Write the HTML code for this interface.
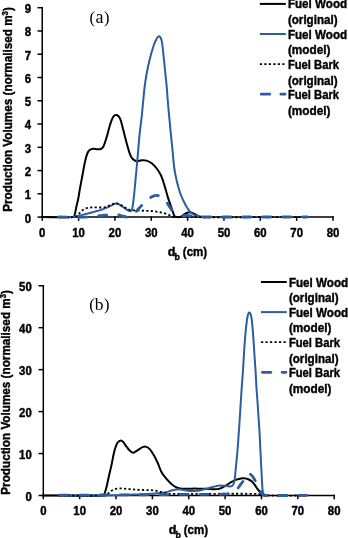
<!DOCTYPE html>
<html><head><meta charset="utf-8"><style>
html,body{margin:0;padding:0;background:#fff;width:348px;height:538px;overflow:hidden}
svg{display:block;will-change:transform}
text.serif{font-family:"Liberation Serif",serif;font-weight:normal;stroke:none}
text{font-family:"Liberation Sans",sans-serif;font-weight:bold;fill:#000;stroke:#000;stroke-width:0.4px}
</style></head><body>
<svg width="348" height="538" viewBox="0 0 348 538">
<rect width="348" height="538" fill="#fff"/>
<g stroke="#000" stroke-width="1.50" fill="none" stroke-linecap="square">
<path d="M42.25 7.70 V217.10"/>
<path d="M42.25 217.10 H333.00"/>
<path d="M38.25 217.10 H42.25"/>
<path d="M38.25 193.83 H42.25"/>
<path d="M38.25 170.57 H42.25"/>
<path d="M38.25 147.30 H42.25"/>
<path d="M38.25 124.03 H42.25"/>
<path d="M38.25 100.77 H42.25"/>
<path d="M38.25 77.50 H42.25"/>
<path d="M38.25 54.23 H42.25"/>
<path d="M38.25 30.97 H42.25"/>
<path d="M38.25 7.70 H42.25"/>
<path d="M42.25 217.10 V220.10"/>
<path d="M78.59 217.10 V220.10"/>
<path d="M114.94 217.10 V220.10"/>
<path d="M151.28 217.10 V220.10"/>
<path d="M187.62 217.10 V220.10"/>
<path d="M223.97 217.10 V220.10"/>
<path d="M260.31 217.10 V220.10"/>
<path d="M296.66 217.10 V220.10"/>
<path d="M333.00 217.10 V220.10"/>
</g>
<text transform="translate(31.20 222.50) scale(0.950 1)" text-anchor="end" font-size="12.00">0</text>
<text transform="translate(31.20 199.23) scale(0.950 1)" text-anchor="end" font-size="12.00">1</text>
<text transform="translate(31.20 175.97) scale(0.950 1)" text-anchor="end" font-size="12.00">2</text>
<text transform="translate(31.20 152.70) scale(0.950 1)" text-anchor="end" font-size="12.00">3</text>
<text transform="translate(31.20 129.43) scale(0.950 1)" text-anchor="end" font-size="12.00">4</text>
<text transform="translate(31.20 106.17) scale(0.950 1)" text-anchor="end" font-size="12.00">5</text>
<text transform="translate(31.20 82.90) scale(0.950 1)" text-anchor="end" font-size="12.00">6</text>
<text transform="translate(31.20 59.63) scale(0.950 1)" text-anchor="end" font-size="12.00">7</text>
<text transform="translate(31.20 36.37) scale(0.950 1)" text-anchor="end" font-size="12.00">8</text>
<text transform="translate(31.20 13.10) scale(0.950 1)" text-anchor="end" font-size="12.00">9</text>
<text transform="translate(42.25 237.40) scale(0.950 1)" text-anchor="middle" font-size="12.00">0</text>
<text transform="translate(78.59 237.40) scale(0.950 1)" text-anchor="middle" font-size="12.00">10</text>
<text transform="translate(114.94 237.40) scale(0.950 1)" text-anchor="middle" font-size="12.00">20</text>
<text transform="translate(151.28 237.40) scale(0.950 1)" text-anchor="middle" font-size="12.00">30</text>
<text transform="translate(187.62 237.40) scale(0.950 1)" text-anchor="middle" font-size="12.00">40</text>
<text transform="translate(223.97 237.40) scale(0.950 1)" text-anchor="middle" font-size="12.00">50</text>
<text transform="translate(260.31 237.40) scale(0.950 1)" text-anchor="middle" font-size="12.00">60</text>
<text transform="translate(296.66 237.40) scale(0.950 1)" text-anchor="middle" font-size="12.00">70</text>
<text transform="translate(333.00 237.40) scale(0.950 1)" text-anchor="middle" font-size="12.00">80</text>
<path d="M42.25 217.10 C52.50 217.10 63.02 217.69 73.00 217.10 C73.81 217.05 74.34 215.97 74.60 215.20 C75.41 212.77 75.63 210.06 76.20 207.50 C76.87 204.49 77.70 201.52 78.30 198.50 C78.97 195.12 79.39 191.69 80.00 188.30 C80.79 183.86 81.67 179.43 82.50 175.00 C83.33 170.57 84.00 166.09 85.00 161.70 C85.67 158.76 86.35 155.74 87.50 153.00 C88.02 151.77 88.95 150.56 90.00 149.80 C90.89 149.16 92.18 148.89 93.30 148.80 C94.68 148.69 96.10 149.16 97.50 149.20 C98.60 149.23 99.84 149.40 100.80 149.00 C101.77 148.60 102.82 147.77 103.30 146.80 C104.79 143.77 105.68 140.30 106.70 137.00 C107.92 133.04 108.72 128.94 110.00 125.00 C110.92 122.17 111.75 119.05 113.30 116.70 C113.95 115.72 115.62 114.77 116.60 115.00 C117.85 115.30 119.37 116.90 120.00 118.30 C121.61 121.90 122.25 126.09 123.30 130.00 C124.48 134.42 125.48 138.89 126.70 143.30 C127.72 146.99 128.62 150.76 130.00 154.30 C130.66 155.99 131.57 157.74 132.80 159.00 C133.81 160.04 135.31 161.01 136.70 161.20 C138.28 161.41 140.02 160.30 141.70 160.20 C143.35 160.10 145.14 160.12 146.70 160.60 C148.47 161.15 150.23 162.14 151.70 163.30 C153.56 164.77 155.23 166.61 156.70 168.50 C158.26 170.51 159.66 172.72 160.80 175.00 C161.86 177.12 162.55 179.44 163.30 181.70 C164.21 184.44 164.99 187.23 165.80 190.00 C166.52 192.46 167.14 194.95 167.90 197.40 C168.67 199.89 169.56 202.34 170.40 204.80 C171.22 207.20 172.02 209.62 172.90 212.00 C173.45 213.49 173.79 215.27 174.70 216.40 C175.16 216.97 176.21 217.05 177.00 217.10 C178.31 217.18 179.79 217.22 181.00 216.80 C181.92 216.48 182.55 215.46 183.40 214.90 C184.45 214.20 185.53 213.46 186.70 213.00 C187.73 212.59 188.93 212.15 190.00 212.30 C191.70 212.55 193.39 213.45 195.00 214.20 C196.39 214.85 197.58 215.98 199.00 216.50 C200.25 216.95 201.67 216.90 203.00 217.10" stroke="#000" stroke-width="2.00" fill="none" stroke-linecap="round" stroke-linejoin="round"/>
<path d="M57.50 217.10 C62.83 217.07 68.18 217.17 73.50 217.00 C74.35 216.97 75.17 216.70 76.00 216.50 C78.11 216.00 80.20 215.43 82.30 214.90 C84.43 214.36 86.57 213.85 88.70 213.30 C90.81 212.75 92.90 212.17 95.00 211.60 C97.10 211.03 99.25 210.60 101.30 209.90 C103.45 209.17 105.53 208.23 107.60 207.30 C109.33 206.53 110.97 205.57 112.70 204.80 C113.74 204.34 114.81 203.69 115.90 203.60 C116.91 203.52 118.05 203.88 119.00 204.30 C120.08 204.78 121.01 205.62 122.00 206.30 C123.01 206.99 123.99 207.72 125.00 208.40 C126.16 209.18 127.27 210.06 128.50 210.70 C129.14 211.03 130.03 211.50 130.60 211.30 C131.20 211.10 131.77 210.21 132.00 209.50 C132.57 207.77 132.73 205.84 133.00 204.00 C133.43 201.01 133.79 198.01 134.10 195.00 C134.72 188.91 135.23 182.80 135.80 176.70 C136.37 170.57 136.95 164.43 137.50 158.30 C138.25 149.97 138.86 141.62 139.70 133.30 C140.26 127.76 141.10 122.24 141.70 116.70 C142.30 111.14 142.76 105.57 143.30 100.00 C143.66 96.33 143.93 92.65 144.40 89.00 C145.07 83.75 145.75 78.50 146.70 73.30 C147.62 68.27 148.77 63.27 150.00 58.30 C150.97 54.40 152.01 50.50 153.30 46.70 C154.24 43.93 155.32 41.14 156.70 38.60 C157.22 37.64 158.32 36.00 159.00 36.20 C159.92 36.47 161.14 38.56 161.50 40.00 C162.57 44.26 162.78 48.86 163.30 53.30 C163.95 58.86 164.43 64.43 165.00 70.00 C165.57 75.57 166.20 81.13 166.70 86.70 C167.10 91.13 167.33 95.57 167.70 100.00 C168.16 105.57 168.68 111.14 169.20 116.70 C169.72 122.24 170.25 127.77 170.80 133.30 C171.35 138.87 171.95 144.43 172.50 150.00 C173.08 155.83 173.43 161.70 174.20 167.50 C174.76 171.70 175.61 175.86 176.50 180.00 C177.04 182.53 177.79 185.01 178.50 187.50 C179.12 189.68 179.72 191.88 180.50 194.00 C181.32 196.21 182.29 198.37 183.30 200.50 C184.35 202.71 185.45 204.91 186.70 207.00 C187.68 208.64 188.67 210.37 190.00 211.70 C191.43 213.13 193.19 214.41 195.00 215.30 C196.52 216.04 198.31 216.26 200.00 216.60 C201.31 216.86 202.67 216.93 204.00 217.10" stroke="#2C5D9E" stroke-width="2.00" fill="none" stroke-linecap="round" stroke-linejoin="round"/>
<path d="M57.50 217.10 C63.50 217.07 69.67 217.54 75.50 217.00 C76.50 216.91 77.27 215.91 78.00 215.20 C78.71 214.51 79.10 213.50 79.80 212.80 C80.96 211.64 82.22 210.49 83.60 209.60 C84.75 208.86 86.07 208.23 87.40 207.90 C89.04 207.50 90.80 207.50 92.50 207.40 C93.76 207.33 95.03 207.39 96.30 207.40 C97.97 207.42 99.64 207.57 101.30 207.50 C102.77 207.44 104.28 207.36 105.70 207.00 C107.02 206.66 108.24 205.94 109.50 205.40 C110.57 204.94 111.60 204.36 112.70 204.00 C113.73 203.66 114.83 203.34 115.90 203.30 C116.76 203.27 117.69 203.49 118.50 203.80 C119.52 204.19 120.44 204.85 121.40 205.40 C122.61 206.09 123.78 206.85 125.00 207.50 C126.64 208.38 128.23 209.56 130.00 210.00 C132.13 210.53 134.47 210.28 136.70 210.40 C139.47 210.55 142.23 210.67 145.00 210.80 C147.33 210.91 149.67 210.93 152.00 211.10 C153.41 211.20 154.81 211.39 156.20 211.60 C157.84 211.85 159.48 212.15 161.10 212.50 C162.58 212.82 164.07 213.12 165.50 213.60 C166.97 214.09 168.39 214.76 169.80 215.40 C170.89 215.89 171.81 216.99 173.00 217.00 C217.71 217.55 262.67 217.07 307.50 217.10" stroke="#000" stroke-width="1.80" fill="none" stroke-linecap="butt" stroke-linejoin="round" stroke-dasharray="2.2 2.3"/>
<path d="M58.90 217.00 C69.27 217.00 79.66 217.32 90.00 217.00 C92.46 216.92 94.86 216.10 97.30 215.80 C99.19 215.57 101.10 215.55 103.00 215.40 C104.57 215.28 106.13 215.14 107.70 215.00 C109.13 214.87 110.56 214.69 112.00 214.60 C113.16 214.53 114.34 214.46 115.50 214.50 C116.50 214.53 117.52 214.58 118.50 214.80 C120.02 215.15 121.48 215.80 123.00 216.20 C124.48 216.60 126.00 217.14 127.50 217.20 C128.50 217.24 129.60 216.94 130.50 216.50 C131.43 216.04 132.21 215.22 133.00 214.50 C134.04 213.55 135.02 212.51 136.00 211.50 C137.18 210.28 138.33 209.03 139.50 207.80 C140.60 206.63 141.71 205.47 142.80 204.30 C144.04 202.97 145.13 201.48 146.50 200.30 C147.80 199.18 149.29 198.23 150.80 197.40 C152.13 196.67 153.54 195.87 155.00 195.60 C156.37 195.34 157.98 195.37 159.30 195.80 C160.65 196.24 161.91 197.23 163.00 198.20 C164.38 199.43 165.58 200.91 166.70 202.40 C167.91 204.01 168.90 205.80 170.00 207.50 C170.97 209.00 172.00 210.46 172.90 212.00 C173.66 213.30 174.04 214.96 175.00 216.00 C175.57 216.62 176.67 216.67 177.50 217.00" stroke="#2C5D9E" stroke-width="2.80" fill="none" stroke-linecap="round" stroke-linejoin="round" stroke-dasharray="8 12"/>
<path d="M182.90 216.00 C184.27 215.77 185.63 215.30 187.00 215.30 C188.66 215.30 190.34 215.71 192.00 216.00 C193.34 216.24 194.65 216.73 196.00 216.90 C197.32 217.06 198.67 217.00 200.00 217.00 C235.83 217.03 271.67 217.00 307.50 217.00" stroke="#2C5D9E" stroke-width="2.80" fill="none" stroke-linecap="round" stroke-linejoin="round" stroke-dasharray="8 12"/>
<path d="M259.80 3.90 H285.80" stroke="#000" stroke-width="2"/>
<text transform="translate(287.90 8.40) scale(0.955 1)" text-anchor="start" font-size="12.20">Fuel Wood</text>
<text transform="translate(287.90 24.10) scale(0.952 1)" text-anchor="start" font-size="12.20">(original)</text>
<path d="M259.80 34.00 H285.80" stroke="#2C5D9E" stroke-width="2"/>
<text transform="translate(287.90 38.67) scale(0.955 1)" text-anchor="start" font-size="12.20">Fuel Wood</text>
<text transform="translate(287.90 54.37) scale(0.968 1)" text-anchor="start" font-size="12.20">(model)</text>
<path d="M259.80 64.10 H285.80" stroke="#000" stroke-width="1.8" stroke-dasharray="2.2 2.3"/>
<text transform="translate(287.90 68.94) scale(0.922 1)" text-anchor="start" font-size="12.20">Fuel Bark</text>
<text transform="translate(287.90 84.64) scale(0.952 1)" text-anchor="start" font-size="12.20">(original)</text>
<path d="M261.15 94.20 H285.00" stroke="#2C5D9E" stroke-width="2.7" stroke-dasharray="8.6 11.1" stroke-linecap="round"/>
<text transform="translate(287.90 99.21) scale(0.922 1)" text-anchor="start" font-size="12.20">Fuel Bark</text>
<text transform="translate(287.90 114.91) scale(0.968 1)" text-anchor="start" font-size="12.20">(model)</text>
<text x="89.6" y="23.4" class="serif" font-size="16.5">(<tspan font-size="18" dx="0.4">a</tspan><tspan dx="0.4">)</tspan></text>
<text transform="translate(12.0 211.8) rotate(-90)" font-size="12.80" textLength="204.6" lengthAdjust="spacingAndGlyphs">Production Volumes (normalised m<tspan font-size="8.4" dy="-3.7">3</tspan><tspan dy="3.7">)</tspan></text>
<text x="167.80" y="255.90" font-size="12.6">d</text>
<text x="174.60" y="259.70" font-size="8.8">b</text>
<text x="182.80" y="255.90" font-size="12.6" textLength="24.30" lengthAdjust="spacingAndGlyphs">(cm)</text>
<g stroke="#000" stroke-width="1.50" fill="none" stroke-linecap="square">
<path d="M43.30 285.75 V495.50"/>
<path d="M43.30 495.50 H334.20"/>
<path d="M39.30 495.50 H43.30"/>
<path d="M39.30 453.55 H43.30"/>
<path d="M39.30 411.60 H43.30"/>
<path d="M39.30 369.65 H43.30"/>
<path d="M39.30 327.70 H43.30"/>
<path d="M39.30 285.75 H43.30"/>
<path d="M43.30 495.50 V498.50"/>
<path d="M79.66 495.50 V498.50"/>
<path d="M116.02 495.50 V498.50"/>
<path d="M152.39 495.50 V498.50"/>
<path d="M188.75 495.50 V498.50"/>
<path d="M225.11 495.50 V498.50"/>
<path d="M261.48 495.50 V498.50"/>
<path d="M297.84 495.50 V498.50"/>
<path d="M334.20 495.50 V498.50"/>
</g>
<text transform="translate(31.80 500.80) scale(0.950 1)" text-anchor="end" font-size="12.00">0</text>
<text transform="translate(31.80 458.85) scale(0.950 1)" text-anchor="end" font-size="12.00">10</text>
<text transform="translate(31.80 416.90) scale(0.950 1)" text-anchor="end" font-size="12.00">20</text>
<text transform="translate(31.80 374.95) scale(0.950 1)" text-anchor="end" font-size="12.00">30</text>
<text transform="translate(31.80 333.00) scale(0.950 1)" text-anchor="end" font-size="12.00">40</text>
<text transform="translate(31.80 291.05) scale(0.950 1)" text-anchor="end" font-size="12.00">50</text>
<text transform="translate(43.30 515.40) scale(0.950 1)" text-anchor="middle" font-size="12.00">0</text>
<text transform="translate(79.66 515.40) scale(0.950 1)" text-anchor="middle" font-size="12.00">10</text>
<text transform="translate(116.02 515.40) scale(0.950 1)" text-anchor="middle" font-size="12.00">20</text>
<text transform="translate(152.39 515.40) scale(0.950 1)" text-anchor="middle" font-size="12.00">30</text>
<text transform="translate(188.75 515.40) scale(0.950 1)" text-anchor="middle" font-size="12.00">40</text>
<text transform="translate(225.11 515.40) scale(0.950 1)" text-anchor="middle" font-size="12.00">50</text>
<text transform="translate(261.48 515.40) scale(0.950 1)" text-anchor="middle" font-size="12.00">60</text>
<text transform="translate(297.84 515.40) scale(0.950 1)" text-anchor="middle" font-size="12.00">70</text>
<text transform="translate(334.20 515.40) scale(0.950 1)" text-anchor="middle" font-size="12.00">80</text>
<path d="M43.30 495.50 C63.37 495.50 83.60 495.83 103.50 495.50 C103.90 495.49 104.06 494.88 104.20 494.50 C104.96 492.48 105.66 490.40 106.20 488.30 C107.19 484.47 107.92 480.56 108.80 476.70 C109.69 472.80 110.66 468.91 111.50 465.00 C112.32 461.18 112.93 457.31 113.80 453.50 C114.30 451.31 114.85 449.11 115.60 447.00 C116.18 445.38 116.76 443.59 117.80 442.30 C118.53 441.39 119.88 440.46 120.90 440.40 C121.71 440.36 122.64 441.33 123.30 442.00 C124.07 442.79 124.53 443.89 125.20 444.80 C126.63 446.73 127.93 448.83 129.60 450.50 C130.56 451.46 131.92 452.80 133.10 452.70 C134.78 452.56 136.51 450.79 138.20 449.80 C139.65 448.95 140.99 447.86 142.50 447.20 C143.45 446.79 144.65 446.35 145.60 446.60 C147.05 446.98 148.63 447.96 149.70 449.10 C151.43 450.96 152.71 453.35 154.00 455.60 C155.41 458.05 156.63 460.62 157.80 463.20 C159.19 466.26 160.08 469.58 161.70 472.50 C163.04 474.92 164.89 477.09 166.70 479.20 C168.23 480.99 169.90 482.70 171.70 484.20 C173.23 485.47 174.91 486.69 176.70 487.50 C178.24 488.19 180.01 488.51 181.70 488.70 C183.87 488.94 186.10 488.82 188.30 488.80 C190.53 488.78 192.77 488.62 195.00 488.60 C196.67 488.59 198.33 488.69 200.00 488.70 C202.17 488.72 204.34 488.62 206.50 488.70 C208.00 488.75 209.50 488.99 211.00 489.10 C212.33 489.19 213.67 489.38 215.00 489.30 C216.61 489.21 218.28 489.10 219.80 488.60 C221.65 488.00 223.38 486.96 225.10 486.00 C226.92 484.99 228.60 483.74 230.40 482.70 C232.13 481.70 233.85 480.63 235.70 479.90 C237.39 479.23 239.21 478.84 241.00 478.50 C241.98 478.31 243.01 478.21 244.00 478.30 C245.44 478.44 246.96 478.66 248.30 479.20 C249.63 479.73 250.91 480.57 252.00 481.50 C252.87 482.24 253.51 483.27 254.20 484.20 C255.61 486.10 256.81 488.17 258.30 490.00 C259.58 491.57 260.96 493.13 262.50 494.40 C263.19 494.97 264.17 495.13 265.00 495.50" stroke="#000" stroke-width="2.00" fill="none" stroke-linecap="round" stroke-linejoin="round"/>
<path d="M58.70 495.50 C75.80 495.43 92.90 495.50 110.00 495.30 C116.00 495.23 122.00 494.90 128.00 494.70 C133.10 494.53 138.20 494.45 143.30 494.20 C147.77 493.98 152.24 493.63 156.70 493.30 C159.47 493.10 162.29 493.11 165.00 492.60 C167.29 492.17 169.44 491.12 171.70 490.50 C173.34 490.05 175.02 489.58 176.70 489.40 C178.12 489.25 179.58 489.33 181.00 489.50 C182.68 489.70 184.32 490.24 186.00 490.50 C187.32 490.71 188.66 490.84 190.00 490.90 C191.66 490.97 193.34 491.01 195.00 490.90 C196.91 490.78 198.82 490.56 200.70 490.20 C202.66 489.83 204.57 489.20 206.50 488.70 C208.03 488.30 209.57 487.91 211.10 487.50 C212.40 487.15 213.69 486.72 215.00 486.40 C216.59 486.02 218.18 485.50 219.80 485.40 C221.55 485.30 223.34 485.61 225.10 485.80 C226.44 485.94 227.77 486.42 229.10 486.40 C230.21 486.38 231.60 486.33 232.40 485.70 C233.26 485.03 233.77 483.65 234.10 482.50 C234.64 480.61 234.76 478.57 235.00 476.60 C235.26 474.41 235.39 472.20 235.60 470.00 C236.19 463.90 236.89 457.81 237.40 451.70 C238.09 443.37 238.63 435.04 239.20 426.70 C239.77 418.37 240.26 410.03 240.80 401.70 C241.16 396.13 241.51 390.57 241.90 385.00 C242.21 380.57 242.61 376.14 242.90 371.70 C243.38 364.47 243.70 357.23 244.20 350.00 C244.66 343.33 245.14 336.65 245.80 330.00 C246.24 325.55 246.66 321.06 247.50 316.70 C247.79 315.20 248.58 312.40 249.20 312.40 C249.84 312.40 251.02 315.15 251.30 316.70 C252.28 322.11 252.55 327.76 253.00 333.30 C253.68 341.62 254.14 349.97 254.70 358.30 C255.07 363.87 255.47 369.43 255.80 375.00 C256.00 378.33 256.09 381.67 256.30 385.00 C256.65 390.57 257.11 396.13 257.50 401.70 C258.08 410.03 258.70 418.36 259.20 426.70 C259.70 435.03 260.08 443.37 260.50 451.70 C260.78 457.13 261.02 462.57 261.30 468.00 C261.52 472.33 261.72 476.67 262.00 481.00 C262.22 484.50 262.20 488.08 262.80 491.50 C263.04 492.85 263.63 494.47 264.50 495.30 C265.03 495.80 266.17 495.43 267.00 495.50" stroke="#2C5D9E" stroke-width="2.00" fill="none" stroke-linecap="round" stroke-linejoin="round"/>
<path d="M58.70 495.50 C74.47 495.47 90.49 496.12 106.00 495.40 C107.09 495.35 107.67 493.93 108.50 493.20 C109.33 492.47 110.09 491.61 111.00 491.00 C111.92 490.38 112.97 489.91 114.00 489.50 C114.97 489.11 115.98 488.80 117.00 488.60 C117.98 488.40 119.00 488.30 120.00 488.30 C121.33 488.30 122.67 488.48 124.00 488.60 C126.00 488.78 128.00 489.03 130.00 489.20 C132.33 489.40 134.67 489.56 137.00 489.70 C139.10 489.83 141.20 489.92 143.30 490.00 C146.63 490.12 149.99 490.03 153.30 490.30 C154.89 490.43 156.45 490.84 158.00 491.20 C159.35 491.51 160.66 491.95 162.00 492.30 C163.33 492.65 164.65 493.03 166.00 493.30 C167.32 493.56 168.65 493.89 170.00 493.90 C199.32 494.09 228.75 493.45 258.00 493.90 C259.25 493.92 260.25 495.26 261.50 495.30 C276.75 495.79 292.17 495.43 307.50 495.50" stroke="#000" stroke-width="1.80" fill="none" stroke-linecap="butt" stroke-linejoin="round" stroke-dasharray="2.2 2.3"/>
<path d="M60.10 495.20 C90.07 495.03 120.03 494.89 150.00 494.70 C166.67 494.59 183.33 494.41 200.00 494.30 C208.33 494.24 216.68 494.47 225.00 494.20 C227.02 494.13 229.08 493.86 231.00 493.30 C232.41 492.89 233.79 492.14 235.00 491.30 C235.96 490.64 236.75 489.71 237.50 488.80 C238.59 487.47 239.48 485.99 240.50 484.60 C241.48 483.26 242.60 482.00 243.50 480.60 C244.44 479.13 245.02 477.43 246.00 476.00 C246.62 475.09 247.42 473.81 248.30 473.60 C249.08 473.41 250.28 474.17 251.00 474.80 C252.18 475.84 253.08 477.28 254.00 478.60 C254.75 479.68 255.34 480.86 256.00 482.00 C256.77 483.33 257.61 484.63 258.30 486.00 C259.11 487.63 259.67 489.38 260.50 491.00 C261.07 492.12 261.63 493.37 262.50 494.20 C263.13 494.80 264.09 495.28 265.00 495.30 C279.09 495.68 293.33 495.37 307.50 495.40" stroke="#2C5D9E" stroke-width="2.80" fill="none" stroke-linecap="round" stroke-linejoin="round" stroke-dasharray="8 12"/>
<path d="M261.00 282.00 H286.80" stroke="#000" stroke-width="2"/>
<text transform="translate(288.90 286.50) scale(0.955 1)" text-anchor="start" font-size="12.20">Fuel Wood</text>
<text transform="translate(288.90 302.20) scale(0.952 1)" text-anchor="start" font-size="12.20">(original)</text>
<path d="M261.00 312.10 H286.80" stroke="#2C5D9E" stroke-width="2"/>
<text transform="translate(288.90 316.77) scale(0.955 1)" text-anchor="start" font-size="12.20">Fuel Wood</text>
<text transform="translate(288.90 332.47) scale(0.968 1)" text-anchor="start" font-size="12.20">(model)</text>
<path d="M261.00 342.20 H286.80" stroke="#000" stroke-width="1.8" stroke-dasharray="2.2 2.3"/>
<text transform="translate(288.90 347.04) scale(0.922 1)" text-anchor="start" font-size="12.20">Fuel Bark</text>
<text transform="translate(288.90 362.74) scale(0.952 1)" text-anchor="start" font-size="12.20">(original)</text>
<path d="M262.35 372.30 H286.00" stroke="#2C5D9E" stroke-width="2.7" stroke-dasharray="8.6 11.1" stroke-linecap="round"/>
<text transform="translate(288.90 377.31) scale(0.922 1)" text-anchor="start" font-size="12.20">Fuel Bark</text>
<text transform="translate(288.90 393.01) scale(0.968 1)" text-anchor="start" font-size="12.20">(model)</text>
<text x="89.2" y="310.3" class="serif" font-size="16.5">(<tspan font-size="17.5">b</tspan><tspan dx="0.6">)</tspan></text>
<text transform="translate(9.8 494.7) rotate(-90)" font-size="12.80" textLength="204.6" lengthAdjust="spacingAndGlyphs">Production Volumes (normalised m<tspan font-size="8.4" dy="-3.7">3</tspan><tspan dy="3.7">)</tspan></text>
<text x="168.70" y="533.90" font-size="12.6">d</text>
<text x="175.50" y="537.70" font-size="8.8">b</text>
<text x="183.70" y="533.90" font-size="12.6" textLength="24.30" lengthAdjust="spacingAndGlyphs">(cm)</text>
</svg>
</body></html>
